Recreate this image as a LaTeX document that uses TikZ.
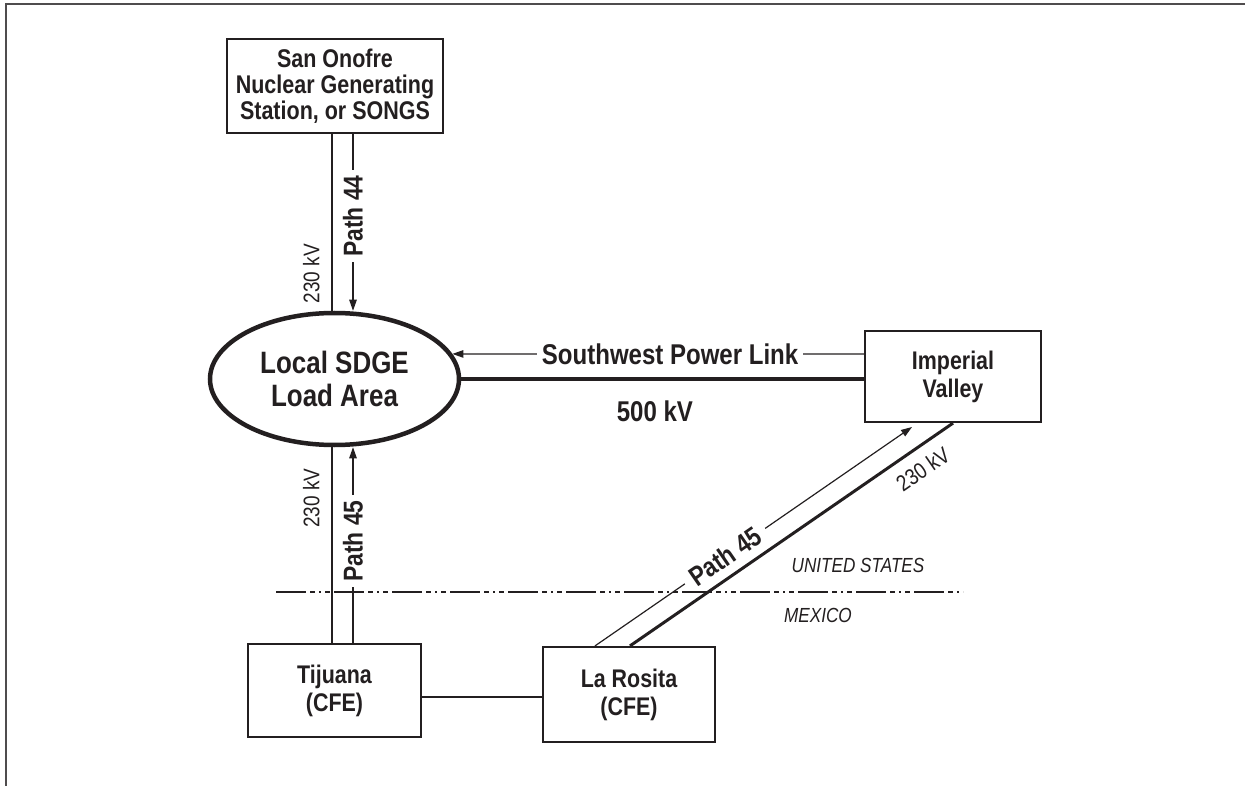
\documentclass[tikz,border=0pt]{standalone}
\usepackage{fontspec}
\setmainfont{Liberation Sans}[FakeStretch=0.84]
\usetikzlibrary{arrows.meta,shapes.geometric}
\definecolor{ink}{HTML}{231F20}
\newcommand\dgSongs{\bfseries\fontsize{25.6}{26}\selectfont}
\newcommand\dgBox{\bfseries\fontsize{25.5}{28}\selectfont}
\newcommand\dgLoad{\bfseries\fontsize{30.9}{33}\selectfont}
\newcommand\dgLink{\bfseries\fontsize{28.6}{30}\selectfont}
\newcommand\dgPath{\bfseries\fontsize{27.2}{28}\selectfont}
\newcommand\dgKv{\fontsize{22.6}{24}\selectfont}
\newcommand\dgCountry{\itshape\fontsize{20.4}{22}\selectfont}
\begin{document}
\begin{tikzpicture}[x=1pt,y=-1pt,
  every node/.style={text=ink},
  box/.style={draw=ink,line width=2.2pt,rectangle,align=center,inner sep=0pt,font=\dgBox},
  loadell/.style={draw=ink,line width=4.5pt,ellipse,align=center,inner sep=0pt,
    minimum width=249pt,minimum height=132pt,font=\dgLoad},
  thinarrow/.style={draw=ink,line width=1.2pt,-{Triangle[length=11pt,width=7.5pt]}},
  hvline/.style={draw=ink,line width=2.8pt},
  heavyline/.style={draw=ink,line width=4.5pt},
  linkline/.style={draw=ink,line width=2.2pt},
  borderline/.style={draw=ink,line width=1.1pt,
    dash pattern=on 30pt off 4pt on 5pt off 4pt on 2pt off 4pt on 5pt off 4pt},
  frameline/.style={draw=ink!80,line width=1.6pt},
  kvlab/.style={rotate=90,anchor=south,inner ysep=11pt,inner xsep=0pt,font=\dgKv},
  pathlab/.style={rotate=90,fill=white,inner xsep=5.5pt,inner ysep=1pt,font=\dgPath},
  diaglab/.style={sloped,fill=white,inner xsep=8pt,inner ysep=1pt,font=\dgPath},
  linklab/.style={fill=white,inner xsep=5pt,inner ysep=1pt,font=\dgLink},
  country/.style={font=\dgCountry,inner sep=0pt}
]
\useasboundingbox (0,0) rectangle (1245,786);
\draw[frameline] (1245,4) -- (6,4) -- (6,786);

% nodes
\node[box,font=\dgSongs,minimum width=216pt,minimum height=94pt] (songs) at (335,86)
  {San Onofre\\Nuclear Generating\\Station, or SONGS};
\node[loadell] (load) at (334.5,379) {Local SDGE\\Load Area};
\node[box,minimum width=176pt,minimum height=91pt] (imperial) at (953,376.5) {Imperial\\Valley};
\node[box,minimum width=173pt,minimum height=93pt] (tijuana) at (334.5,690.5) {Tijuana\\(CFE)};
\node[box,minimum width=172pt,minimum height=95pt] (larosita) at (629,694.5) {La Rosita\\(CFE)};

% helper coordinates
\coordinate (xthick) at (332,0);
\coordinate (xthin) at (353,0);
\coordinate (xdthin) at (595,0);
\coordinate (xdthick) at (630,0);
\coordinate (ivtip) at (912,427);
\coordinate (ysw) at (0,354);
\coordinate (ylink) at (0,697);
\coordinate (bl) at (276,592);
\coordinate (br) at (963,592);

% Path 44
\draw[hvline] (songs.south -| xthick) -- (load.north -| xthick)
  node[kvlab,pos=0.79] {230 kV};
\draw[thinarrow] (songs.south -| xthin) -- (load.north -| xthin)
  node[pathlab,pos=0.464] {Path 44};

% Path 45 (Tijuana)
\draw[hvline] (tijuana.north -| xthick) -- (load.south -| xthick)
  node[kvlab,pos=0.74] {230 kV};
\draw[thinarrow] (tijuana.north -| xthin) -- (load.south -| xthin)
  node[pathlab,pos=0.52] {Path 45};

% Southwest Power Link
\draw[thinarrow] (imperial.west |- ysw) -- (load.12)
  node[linklab,pos=0.471] {Southwest Power Link};
\draw[heavyline] (load.east) -- (load.east -| imperial.west)
  node[pos=0.481,anchor=north,inner ysep=20pt,font=\dgLink] {500 kV};

% Path 45 (La Rosita - Imperial Valley)
\draw[thinarrow] (larosita.north -| xdthin) -- (ivtip)
  node[diaglab,pos=0.41] {Path 45};
\draw[hvline,line width=3pt] (larosita.north -| xdthick) -- (imperial.south)
  node[sloped,pos=0.87,anchor=north,inner ysep=11pt,font=\dgKv] {230 kV};

% Tijuana - La Rosita
\draw[linkline] (tijuana.east |- ylink) -- (larosita.west |- ylink);

% border
\draw[borderline] (bl) -- (br);
\node[country] (us) at (858,565) {UNITED STATES};
\node[country] (mx) at (818,615) {MEXICO};
\end{tikzpicture}
\end{document}
